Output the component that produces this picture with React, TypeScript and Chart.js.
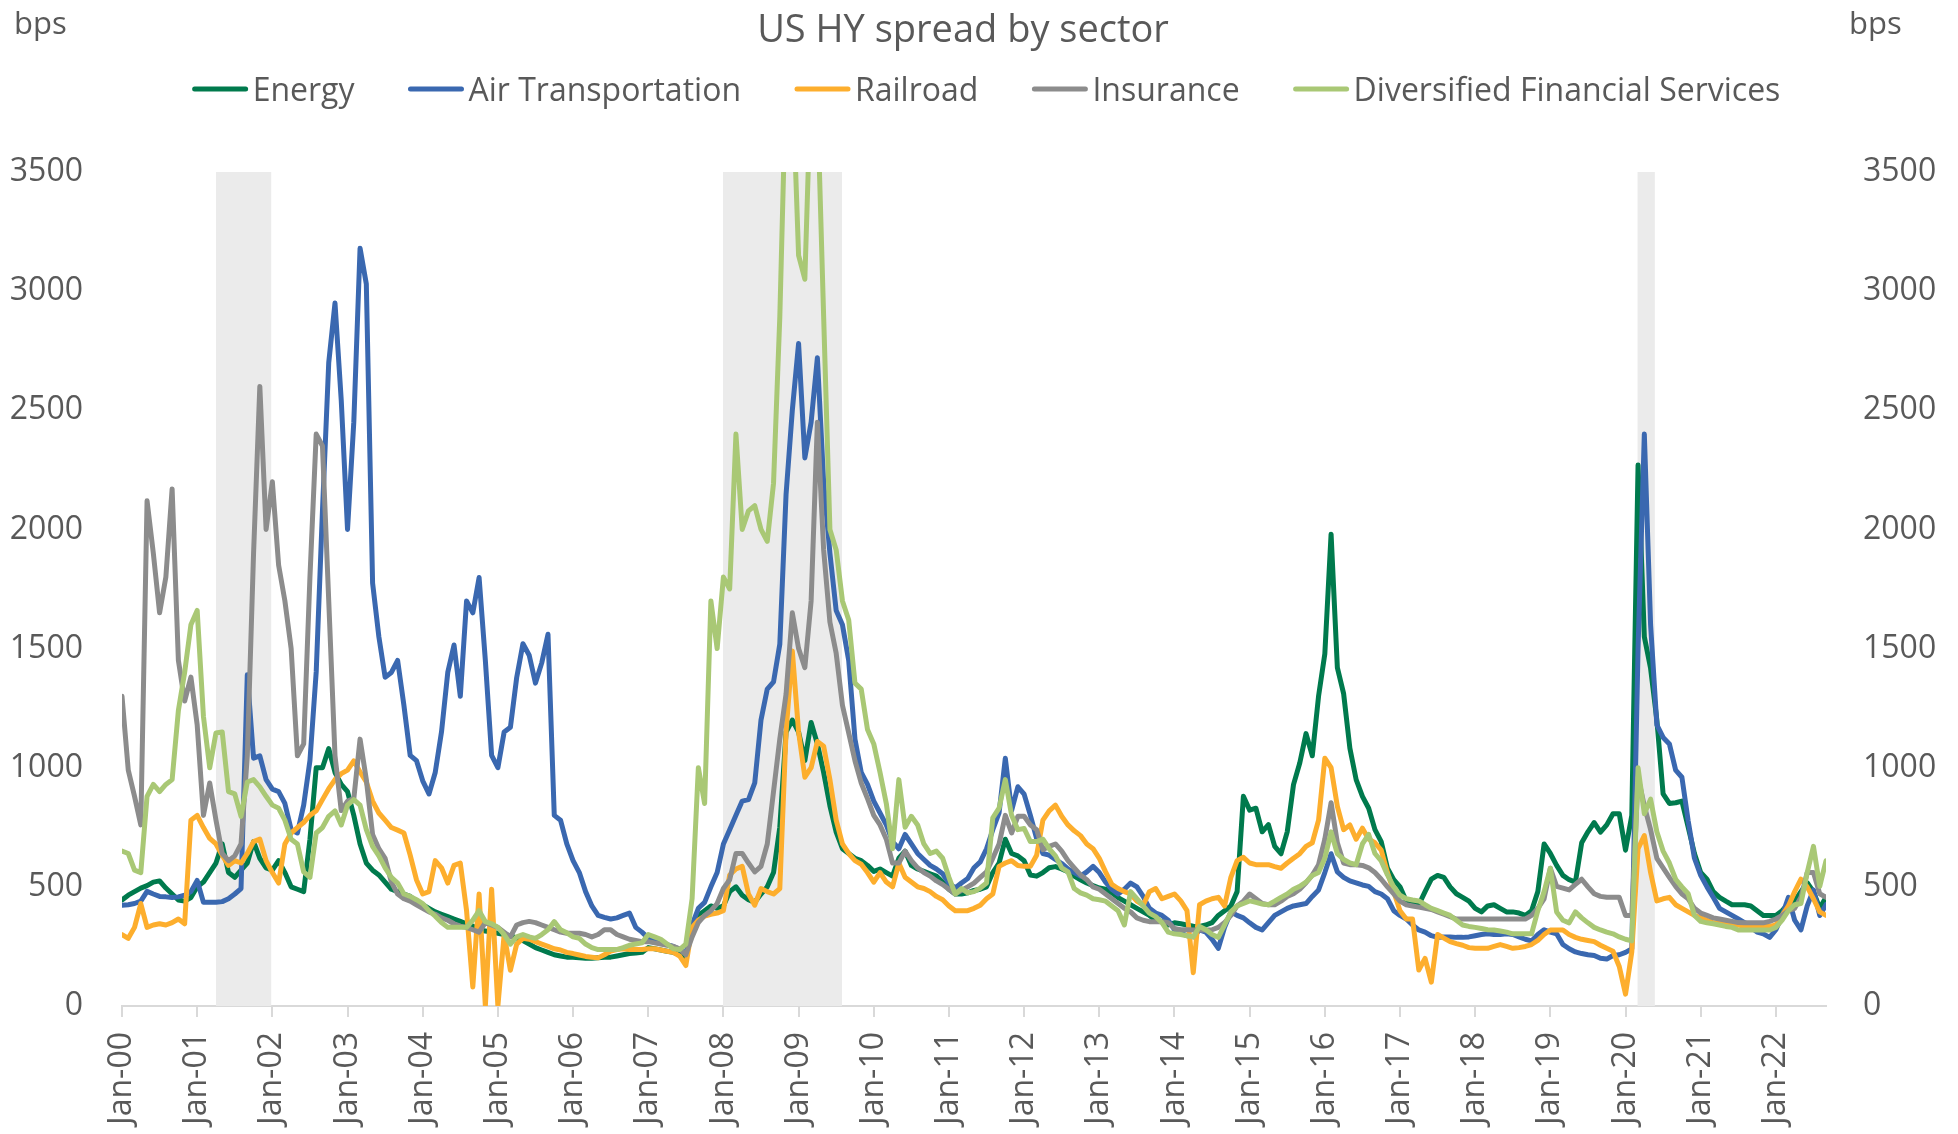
import React, { useEffect, useRef } from 'react';
import { Chart, registerables } from 'chart.js';

Chart.register(...registerables);

const TITLE = 'US HY spread by sector';
const AXIS_UNIT = 'bps';
const SERIES_NAMES = ['Energy', 'Air Transportation', 'Railroad', 'Insurance', 'Diversified Financial Services'];
const SERIES_COLORS = ['#007a4d', '#3a68b0', '#fdae2d', '#8c8c8c', '#a9c875'];

const START_YEAR = 2000; // monthly observations, Jan-2000 .. Sep-2022
const TICK_YEARS = [2000, 2001, 2002, 2003, 2004, 2005, 2006, 2007, 2008, 2009, 2010, 2011, 2012, 2013, 2014, 2015, 2016, 2017, 2018, 2019, 2020, 2021, 2022];
const TICK_LABELS = ['Jan-00', 'Jan-01', 'Jan-02', 'Jan-03', 'Jan-04', 'Jan-05', 'Jan-06', 'Jan-07', 'Jan-08', 'Jan-09', 'Jan-10', 'Jan-11', 'Jan-12', 'Jan-13', 'Jan-14', 'Jan-15', 'Jan-16', 'Jan-17', 'Jan-18', 'Jan-19', 'Jan-20', 'Jan-21', 'Jan-22'];
const Y_TICK_VALUES = [0, 500, 1000, 1500, 2000, 2500, 3000, 3500];
const Y_TICK_LABELS = ['0', '500', '1000', '1500', '2000', '2500', '3000', '3500'];

const RECESSION_START = [2001.25, 2007.995, 2020.16];
const RECESSION_END = [2001.985, 2009.577, 2020.39];

const ENERGY = [
  445, 465, 480, 495, 505, 520, 525, 495, 470, 445, 440, 455,
  500, 520, 560, 600, 680, 560, 540, 570, 600, 690, 620, 580,
  570, 610, 560, 500, 490, 480, 700, 1000, 1000, 1080, 980, 930,
  900, 800, 680, 600, 570, 550, 520, 490, 480, 470, 460, 440,
  425, 410, 395, 385, 375, 365, 355, 345, 335, 320, 315, 310,
  305, 300, 295, 285, 275, 260, 245, 235, 225, 215, 210, 205,
  205, 202, 200, 200, 202, 205, 205, 210, 215, 220, 222, 225,
  245, 240, 235, 230, 225, 215, 200, 330, 380, 400, 420, 410,
  420, 480, 500, 465, 446, 435, 470, 500, 560, 750, 1150, 1200,
  1150, 1030, 1190, 1100, 980, 840, 730, 660, 640, 620, 610, 590,
  565, 575, 560, 545, 620, 650, 590, 575, 565, 555, 545, 520,
  490, 470, 470, 475, 485, 490, 500, 560, 600, 700, 640, 630,
  610, 550, 545, 560, 580, 585, 575, 563, 545, 530, 516, 505,
  495, 490, 475, 455, 440, 425, 410, 395, 380, 360, 355, 340,
  349, 345, 340, 335, 334, 340, 350, 380, 400, 420, 480, 880,
  822, 830, 731, 761, 670, 639, 731, 929, 1020, 1143, 1050, 1300,
  1478, 1980, 1420, 1311, 1082, 950, 880, 830, 740, 690, 578, 530,
  500, 441, 430, 425, 480, 532, 548, 540, 500, 471, 456, 440,
  410, 395, 420, 425, 410, 395, 395, 390, 380, 400, 480, 680,
  640, 590, 548, 530, 520, 685, 731, 770, 730, 760, 807, 807,
  654, 800, 2270, 1550, 1417, 1200, 890, 850, 853, 860, 750, 640,
  560, 532, 480, 456, 440, 425, 425, 425, 420, 400, 380, 380,
  380, 400, 430, 441, 480, 517, 480, 410, 456,
];

const AIR_TRANSPORTATION = [
  423, 425, 430, 440, 481, 470, 460, 458, 455, 458, 465, 480,
  527, 435, 435, 435, 438, 450, 470, 493, 1390, 1040, 1050, 950,
  910, 900, 850, 740, 726, 843, 1030, 1402, 2080, 2700, 2950, 2540,
  2000, 2450, 3180, 3030, 1775, 1550, 1380, 1400, 1450, 1262, 1052, 1030,
  945, 890, 980, 1150, 1400, 1515, 1300, 1700, 1650, 1798, 1450, 1052,
  1000, 1150, 1170, 1378, 1520, 1472, 1355, 1440, 1560, 800, 780, 680,
  610, 560, 480, 420, 380, 372, 365, 370, 380, 390, 330, 310,
  285, 275, 265, 258, 250, 238, 218, 340, 410, 435, 500, 560,
  680, 740, 800, 860, 866, 936, 1200, 1330, 1360, 1518, 2147, 2500,
  2780, 2300, 2450, 2720, 2200, 1900, 1660, 1600, 1450, 1120, 980, 930,
  860, 810, 760, 690, 660, 720, 680, 640, 615, 590, 575, 555,
  516, 495, 516, 535, 580, 605, 660, 740, 810, 1040, 820, 920,
  889, 800, 703, 640, 633, 615, 598, 575, 560, 545, 563, 586,
  560, 520, 490, 470, 490, 516, 500, 460, 410, 390, 380, 360,
  320, 305, 295, 290, 319, 310, 280, 242, 330, 395, 380, 370,
  349, 330, 319, 350, 380, 395, 410, 420, 425, 430, 460, 487,
  560, 639, 563, 540, 525, 517, 508, 502, 480, 470, 450, 400,
  380, 365, 340, 319, 310, 295, 288, 290, 290, 288, 288, 290,
  295, 300, 303, 300, 300, 303, 300, 290, 280, 273, 300, 320,
  310, 303, 258, 240, 227, 220, 215, 212, 200, 197, 212, 215,
  225, 240, 1500, 2400, 1600, 1180, 1127, 1100, 990, 960, 777, 620,
  548, 500, 456, 410, 395, 380, 365, 350, 330, 310, 303, 288,
  320, 380, 456, 360, 319, 420, 487, 380, 425,
];

const RAILROAD = [
  300, 284, 330, 430, 330, 340, 345, 340, 350, 365, 345, 780,
  800, 749, 703, 680, 633, 590, 610, 600, 640, 690, 700, 610,
  560, 516, 680, 726, 749, 770, 800, 819, 866, 912, 950, 975,
  990, 1029, 982, 940, 860, 810, 780, 749, 738, 726, 633, 530,
  470, 480, 610, 580, 516, 590, 600, 400, 80, 470, 0, 490,
  0, 300, 150, 260, 284, 280, 270, 260, 250, 240, 235, 225,
  220, 214, 208, 205, 202, 215, 230, 237, 240, 237, 237, 237,
  240, 240, 235, 230, 225, 210, 170, 330, 360, 377, 385, 390,
  400, 550, 575, 586, 470, 423, 493, 480, 470, 493, 1150, 1490,
  1150, 960, 1000, 1110, 1090, 950, 780, 680, 640, 610, 595, 560,
  520, 560, 520, 500, 600, 540, 520, 500, 493, 480, 460, 446,
  420, 400, 400, 400, 410, 423, 450, 470, 586, 600, 610, 590,
  586, 586, 633, 780, 819, 843, 796, 760, 735, 715, 680, 660,
  620, 563, 510, 493, 480, 470, 440, 423, 480, 493, 450, 460,
  470, 441, 400, 140, 425, 440, 450, 456, 420, 540, 610, 624,
  600, 593, 593, 593, 585, 578, 600, 620, 639, 670, 685, 780,
  1040, 1000, 838, 740, 760, 700, 746, 700, 685, 654, 560, 480,
  400, 365, 365, 151, 200, 100, 300, 285, 270, 262, 255, 245,
  242, 242, 242, 250, 258, 250, 242, 245, 250, 258, 275, 300,
  319, 319, 319, 300, 288, 280, 275, 270, 255, 242, 230, 166,
  50, 227, 660, 715, 560, 441, 450, 456, 425, 410, 395, 380,
  370, 360, 349, 349, 349, 345, 340, 334, 334, 334, 334, 334,
  340, 380, 420, 480, 532, 500, 450, 395, 380,
];

const INSURANCE = [
  1300, 990, 880, 760, 2120, 1900, 1650, 1800, 2170, 1450, 1280, 1380,
  1180, 800, 936, 780, 640, 610, 630, 680, 1050, 1900, 2600, 2000,
  2200, 1850, 1700, 1500, 1050, 1100, 1800, 2400, 2350, 1700, 1050, 820,
  860, 870, 1120, 950, 720, 660, 620, 520, 470, 450, 440, 425,
  410, 395, 385, 370, 360, 345, 335, 330, 320, 310, 350, 340,
  330, 310, 290, 340, 350, 355, 350, 340, 330, 320, 310, 305,
  305, 305, 300, 290, 300, 320, 320, 300, 290, 280, 275, 270,
  270, 265, 260, 255, 250, 240, 215, 290, 350, 380, 400, 430,
  493, 530, 640, 640, 600, 563, 586, 680, 900, 1120, 1309, 1650,
  1500, 1420, 1700, 2450, 1914, 1611, 1480, 1262, 1146, 1029, 936, 870,
  800, 760, 700, 600, 600, 650, 610, 580, 560, 545, 525, 510,
  490, 470, 485, 500, 516, 540, 563, 620, 680, 800, 726, 796,
  796, 760, 740, 656, 670, 680, 650, 610, 580, 550, 530, 500,
  490, 470, 450, 430, 410, 395, 370, 360, 354, 354, 354, 350,
  325, 320, 320, 319, 319, 319, 320, 330, 350, 380, 420, 440,
  470, 450, 430, 425, 425, 440, 460, 471, 490, 517, 550, 593,
  700, 853, 685, 600, 593, 593, 590, 580, 560, 532, 500, 471,
  440, 425, 420, 415, 410, 405, 395, 385, 375, 365, 365, 365,
  365, 365, 365, 365, 365, 365, 365, 365, 365, 380, 410, 450,
  578, 502, 495, 487, 510, 532, 500, 471, 460, 456, 456, 456,
  380, 380, 960, 840, 740, 620, 580, 540, 502, 470, 450, 410,
  390, 380, 370, 365, 360, 355, 350, 349, 349, 349, 349, 355,
  365, 380, 400, 410, 456, 560, 560, 471, 456,
];

const DIVERSIFIED_FINANCIAL = [
  650, 640, 570, 560, 880, 930, 900, 930, 950, 1240, 1400, 1600,
  1660, 1215, 1000, 1146, 1150, 900, 890, 796, 940, 950, 920, 880,
  843, 830, 780, 700, 680, 563, 540, 726, 749, 796, 819, 760,
  843, 866, 843, 740, 670, 630, 580, 540, 516, 470, 460, 446,
  430, 400, 377, 350, 330, 330, 330, 330, 360, 400, 354, 345,
  330, 300, 260, 290, 300, 290, 284, 300, 320, 354, 320, 307,
  290, 284, 260, 245, 237, 237, 237, 237, 245, 255, 260, 265,
  300, 290, 280, 260, 240, 237, 260, 450, 1000, 850, 1700, 1500,
  1800, 1750, 2400, 2000, 2078, 2100, 2000, 1950, 2194, 2890, 3900, 3900,
  3150, 3050, 3900, 3800, 2893, 2000, 1914, 1700, 1620, 1355, 1330, 1160,
  1100, 980, 850, 660, 950, 750, 796, 760, 680, 640, 650, 620,
  540, 470, 493, 475, 480, 495, 516, 790, 830, 950, 800, 740,
  745, 690, 690, 700, 660, 630, 580, 563, 493, 475, 465, 450,
  446, 440, 420, 400, 340, 480, 450, 420, 390, 375, 350, 310,
  303, 300, 295, 290, 334, 320, 300, 288, 340, 395, 420, 430,
  441, 435, 428, 425, 440, 456, 470, 490, 502, 520, 548, 560,
  620, 731, 639, 615, 600, 593, 680, 720, 640, 609, 550, 500,
  465, 450, 445, 441, 425, 410, 400, 390, 380, 360, 340, 334,
  330, 325, 320, 319, 315, 310, 303, 303, 303, 303, 400, 480,
  578, 395, 360, 349, 395, 370, 349, 330, 319, 310, 303, 290,
  280, 273, 1000, 807, 868, 731, 650, 600, 532, 500, 471, 380,
  355, 349, 345, 340, 334, 330, 319, 319, 319, 319, 319, 319,
  330, 360, 400, 425, 430, 560, 670, 502, 609,
];

const SERIES_VALUES = [ENERGY, AIR_TRANSPORTATION, RAILROAD, INSURANCE, DIVERSIFIED_FINANCIAL];

const FONT = "'Open Sans', 'Noto Sans', 'DejaVu Sans', sans-serif";
const TEXT_COLOR = '#595959';
const AXIS_COLOR = '#d9d9d9';

export default function App() {
  const canvasRef = useRef<HTMLCanvasElement | null>(null);

  useEffect(() => {
    const canvas = canvasRef.current;
    if (!canvas) return;

    const monthX = (i: number) => START_YEAR + i / 12;
    const lastX = monthX(ENERGY.length - 1);

    const recessionPlugin = {
      id: 'recessionBands',
      beforeDatasetsDraw(chart: any) {
        const { ctx, chartArea, scales } = chart;
        const xs = scales.x;
        ctx.save();
        ctx.fillStyle = '#ebebeb';
        RECESSION_START.forEach((s, i) => {
          const x0 = xs.getPixelForValue(s);
          const x1 = xs.getPixelForValue(RECESSION_END[i]);
          ctx.fillRect(x0, chartArea.top, x1 - x0, chartArea.bottom - chartArea.top);
        });
        ctx.restore();
      },
    };

    const headerPlugin = {
      id: 'headerLegend',
      afterDraw(chart: any) {
        const ctx = chart.ctx as CanvasRenderingContext2D;
        ctx.save();
        ctx.fillStyle = TEXT_COLOR;
        ctx.textBaseline = 'alphabetic';
        ctx.textAlign = 'center';
        ctx.font = `38px ${FONT}`;
        ctx.fillText(TITLE, 963, 42);

        ctx.font = `31px ${FONT}`;
        ctx.textAlign = 'left';
        ctx.fillText(AXIS_UNIT, 14, 34);
        ctx.fillText(AXIS_UNIT, 1849, 34);

        ctx.font = `32px ${FONT}`;
        const lineW = 57;
        const gap = 4;
        const spacing = 53;
        const widths = SERIES_NAMES.map((n) => ctx.measureText(n).width);
        const total = widths.reduce((a, w) => a + lineW + gap + w, 0) + spacing * (SERIES_NAMES.length - 1);
        let x = 986 - total / 2;
        const ly = 89;
        SERIES_NAMES.forEach((name, i) => {
          ctx.strokeStyle = SERIES_COLORS[i];
          ctx.lineWidth = 5;
          ctx.lineCap = 'round';
          ctx.beginPath();
          ctx.moveTo(x + 3, ly);
          ctx.lineTo(x + lineW - 3, ly);
          ctx.stroke();
          ctx.fillStyle = TEXT_COLOR;
          ctx.fillText(name, x + lineW + gap, 101);
          x += lineW + gap + widths[i] + spacing;
        });
        ctx.restore();
      },
    };

    const yTickBuild = (scale: any) => {
      scale.ticks = Y_TICK_VALUES.map((v) => ({ value: v }));
    };
    const yTicks = {
      padding: 39,
      color: TEXT_COLOR,
      font: { family: FONT, size: 32 },
      callback: (_v: any, i: number) => Y_TICK_LABELS[i],
    };

    const chart = new Chart(canvas, {
      type: 'line',
      data: {
        datasets: SERIES_NAMES.map((name, si) => ({
          label: name,
          data: SERIES_VALUES[si].map((v, i) => ({ x: monthX(i), y: v })),
          borderColor: SERIES_COLORS[si],
          backgroundColor: SERIES_COLORS[si],
          borderWidth: 5,
          pointRadius: 0,
          tension: 0,
          borderJoinStyle: 'round' as const,
          borderCapStyle: 'round' as const,
          order: SERIES_NAMES.length - si,
          yAxisID: 'y',
        })),
      },
      options: {
        animation: false,
        responsive: false,
        devicePixelRatio: 1,
        layout: { padding: { top: 172, left: 0, right: 0, bottom: 0 } },
        plugins: {
          legend: { display: false },
          title: { display: false },
          tooltip: { enabled: false },
        },
        scales: {
          x: {
            type: 'linear',
            position: 'bottom',
            min: START_YEAR,
            max: lastX,
            grid: {
              display: true,
              drawOnChartArea: false,
              drawTicks: true,
              tickLength: 11,
              color: AXIS_COLOR,
              lineWidth: 2,
            },
            border: { display: true, color: AXIS_COLOR, width: 2 },
            ticks: {
              autoSkip: false,
              minRotation: 90,
              maxRotation: 90,
              padding: 15,
              color: TEXT_COLOR,
              font: { family: FONT, size: 32 },
              callback: (_v: any, i: number) => TICK_LABELS[i],
            },
            afterBuildTicks: (scale: any) => {
              scale.ticks = TICK_YEARS.map((v) => ({ value: v }));
            },
            afterFit: (scale: any) => {
              scale.height = 128;
            },
          },
          y: {
            type: 'linear',
            position: 'left',
            min: Y_TICK_VALUES[0],
            max: Y_TICK_VALUES[Y_TICK_VALUES.length - 1],
            grid: { display: false, drawTicks: false },
            border: { display: false },
            ticks: yTicks,
            afterBuildTicks: yTickBuild,
            afterFit: (scale: any) => {
              scale.width = 122;
            },
          },
          y2: {
            type: 'linear',
            position: 'right',
            min: Y_TICK_VALUES[0],
            max: Y_TICK_VALUES[Y_TICK_VALUES.length - 1],
            grid: { display: false, drawTicks: false },
            border: { display: false },
            ticks: { ...yTicks, padding: 37 },
            afterBuildTicks: yTickBuild,
            afterFit: (scale: any) => {
              scale.width = 132;
            },
          },
        },
      },
      plugins: [recessionPlugin, headerPlugin],
    } as any);

    return () => {
      chart.destroy();
    };
  }, []);

  return (
    <div style={{ position: 'absolute', left: 0, top: 0, width: 1958, height: 1134, background: '#ffffff', overflow: 'hidden' }}>
      <canvas ref={canvasRef} width={1958} height={1134} style={{ display: 'block', width: 1958, height: 1134 }} />
    </div>
  );
}
